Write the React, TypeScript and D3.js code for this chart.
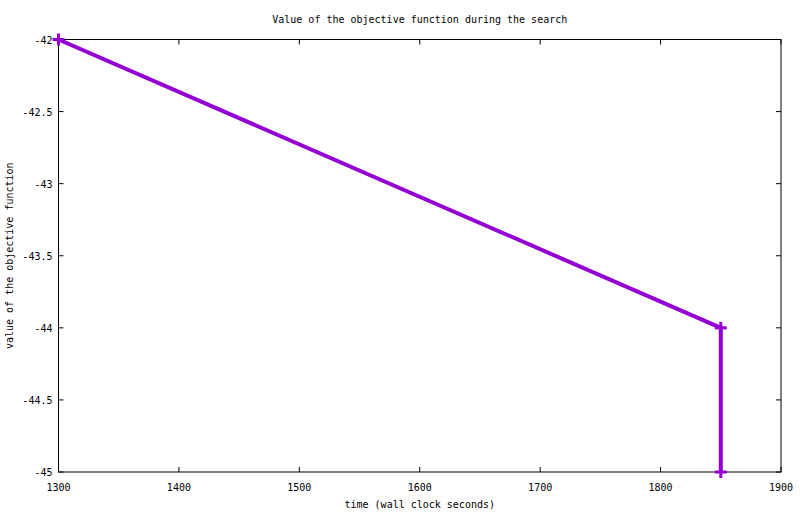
import React from "react";
import * as d3 from "d3";

const xs = [1300, 1850, 1850];
const ys = [-42, -44, -45];
const xTicks = [1300, 1400, 1500, 1600, 1700, 1800, 1900];
const yTicks = [-42, -42.5, -43, -43.5, -44, -44.5, -45];
const title = "Value of the objective function during the search";
const xLabel = "time (wall clock seconds)";
const yLabel = "value of the objective function";

export default function App() {
  const W = 800, H = 514;
  const L = 58.5, R = 781, T = 39.5, B = 472;
  const x = d3.scaleLinear().domain([1300, 1900]).range([L, R]);
  const y = d3.scaleLinear().domain([-45, -42]).range([B, T]);
  const line = d3.line<number>().x((_, i) => x(xs[i])).y((d) => y(d));
  const font = "'DejaVu Sans Mono', monospace";
  const fmt = (v: number) => String(v).replace("-", "\u2212").replace("\u2212", "-");
  const tk = 5;
  return (
    <svg width={W} height={H} style={{ position: "absolute", left: 0, top: 0, background: "#fff" }}>
      <g fontFamily={font} fontSize={10} fill="#000">
        {xTicks.map((t) => (
          <g key={"x" + t}>
            <line x1={x(t)} x2={x(t)} y1={B} y2={B - tk} stroke="#000" />
            <line x1={x(t)} x2={x(t)} y1={T} y2={T + tk} stroke="#000" />
            <text x={x(t)} y={B + 19} textAnchor="middle">{t}</text>
          </g>
        ))}
        {yTicks.map((t) => (
          <g key={"y" + t}>
            <line x1={L} x2={L + tk} y1={y(t)} y2={y(t)} stroke="#000" />
            <line x1={R} x2={R - tk} y1={y(t)} y2={y(t)} stroke="#000" />
            <text x={L - 6} y={y(t) + 4} textAnchor="end">{fmt(t)}</text>
          </g>
        ))}
        <rect x={L} y={T} width={R - L} height={B - T} fill="none" stroke="#000" />
        <text x={(L + R) / 2} y={23} textAnchor="middle">{title}</text>
        <text x={(L + R) / 2} y={508} textAnchor="middle">{xLabel}</text>
        <text transform={`translate(13,${(T + B) / 2}) rotate(-90)`} textAnchor="middle">{yLabel}</text>
      </g>
      <path d={line(ys) || ""} fill="none" stroke="#9400d3" strokeWidth={4} strokeLinejoin="miter" />
      {ys.map((v, i) => (
        <g key={i} stroke="#9400d3" strokeWidth={3}>
          <line x1={x(xs[i]) - 6} x2={x(xs[i]) + 6} y1={y(v)} y2={y(v)} />
          <line x1={x(xs[i])} x2={x(xs[i])} y1={y(v) - 6} y2={y(v) + 6} />
        </g>
      ))}
    </svg>
  );
}
